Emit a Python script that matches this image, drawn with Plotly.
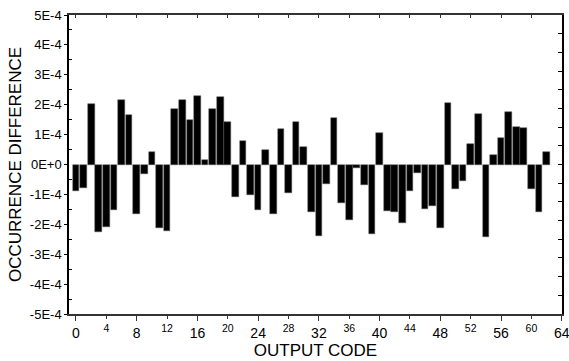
import plotly.graph_objects as go

# ---- data ----
codes = list(range(63))
diff_e4 = [
    -0.89, -0.77, 2.03, -2.25, -2.09, -1.52, 2.15, 1.64, -1.64, -0.33,
    0.42, -2.14, -2.21, 1.85, 2.17, 1.50, 2.28, 0.15, 1.85, 2.27,
    1.41, -1.08, 0.80, -1.02, -1.53, 0.50, -1.65, 1.18, -0.94, 1.41,
    0.57, -1.60, -2.40, -0.64, 1.55, -1.30, -1.86, -0.11, -0.69, -2.33,
    1.06, -1.55, -1.58, -1.95, -0.90, -0.30, -1.50, -1.38, -2.14, 2.05,
    -0.83, -0.54, 0.70, 1.68, -2.41, 0.33, 0.88, 1.75, 1.26, 1.21,
    -0.83, -1.60, 0.43,
]
values = [v * 1e-4 for v in diff_e4]

y_tick_vals = [k * 1e-4 for k in range(-5, 6)]
y_tick_text = ["-5E-4", "-4E-4", "-3E-4", "-2E-4", "-1E-4", "0E+0",
               "1E-4", "2E-4", "3E-4", "4E-4", "5E-4"]
x_big_ticks = list(range(0, 65, 8))
x_small_ticks = list(range(4, 61, 8))

FONT = "Liberation Sans, Arial, sans-serif"
AX = "#333333"
XR = [-0.92, 64.03]

fig = go.Figure()
fig.add_trace(go.Bar(
    x=codes, y=values, width=0.88,
    marker=dict(color="black", line=dict(color="#555555", width=0.5)),
    showlegend=False, hoverinfo="skip",
))
# invisible helpers to activate overlay axes
fig.add_trace(go.Scatter(x=[0], y=[0], xaxis="x2", yaxis="y2", mode="markers",
                         marker=dict(opacity=0), showlegend=False, hoverinfo="skip"))
fig.add_trace(go.Scatter(x=[0], y=[0], xaxis="x3", yaxis="y", mode="markers",
                         marker=dict(opacity=0), showlegend=False, hoverinfo="skip"))

fig.update_layout(
    width=569, height=361,
    margin=dict(l=69, r=7, t=15, b=47),
    plot_bgcolor="white", paper_bgcolor="white",
    font=dict(family=FONT, color="black"),
    bargap=0,
    xaxis=dict(
        range=XR, showgrid=False, zeroline=False, automargin=False,
        showline=True, linecolor=AX, linewidth=1.5,
        tickmode="array", tickvals=x_big_ticks, ticktext=[str(v) for v in x_big_ticks],
        ticks="outside", ticklen=5, tickcolor=AX, tickwidth=1,
        tickfont=dict(size=14), ticklabeloverflow="allow",
        minor=dict(tickmode="array", tickvals=x_small_ticks, ticks="outside",
                   ticklen=3, tickcolor=AX),
        title=dict(text="OUTPUT CODE", font=dict(size=17), standoff=2),
    ),
    xaxis3=dict(
        range=XR, overlaying="x", side="bottom", showgrid=False, zeroline=False,
        automargin=False,
        showline=False, tickmode="array", tickvals=x_small_ticks,
        ticktext=[str(v) for v in x_small_ticks], ticks="outside", ticklen=4,
        tickcolor="rgba(0,0,0,0)", tickfont=dict(size=10.5),
        ticklabeloverflow="allow",
    ),
    xaxis2=dict(
        range=XR, overlaying="x", side="top", showgrid=False, zeroline=False,
        automargin=False,
        showline=True, linecolor=AX, linewidth=1.5,
        tickmode="linear", tick0=0, dtick=4, ticks="inside", ticklen=3,
        tickcolor=AX, showticklabels=False,
    ),
    yaxis=dict(
        range=[-5e-4, 5e-4], showgrid=False, zeroline=False, automargin=False,
        showline=True, linecolor="black", linewidth=1.5,
        tickmode="array", tickvals=y_tick_vals, ticktext=y_tick_text,
        ticks="outside", ticklen=3, tickcolor="black",
        minor=dict(tickmode="linear", tick0=0.5e-4, dtick=1e-4, ticks="inside",
                   ticklen=3, tickcolor="black"),
        tickfont=dict(size=13),
        title=dict(text="OCCURRENCE DIFFERENCE", font=dict(size=17), standoff=4),
    ),
    yaxis2=dict(
        range=[0, 16], overlaying="y", side="right", showgrid=False, zeroline=False,
        automargin=False,
        showline=True, linecolor="black", linewidth=1.5,
        tickmode="linear", tick0=0, dtick=1, ticks="inside", ticklen=4,
        tickcolor="black", showticklabels=False,
    ),
)

fig.write_html("out.html")
